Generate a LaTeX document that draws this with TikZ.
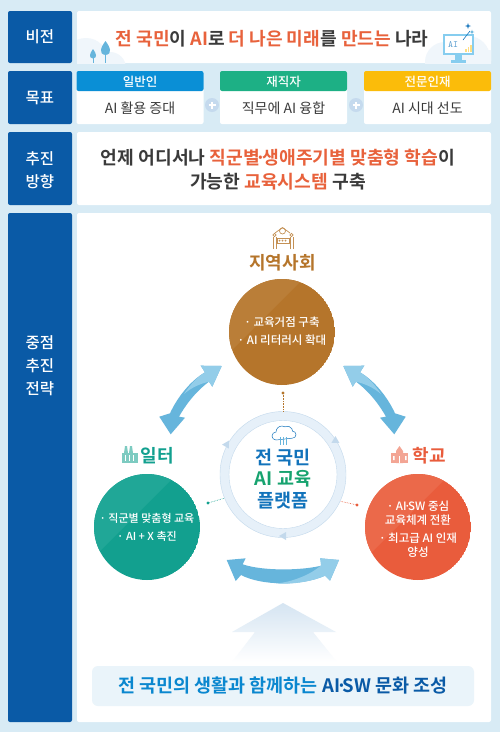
\documentclass[tikz,border=0pt]{standalone}
\usepackage{fontspec}
\setmainfont{Noto Sans CJK KR}[BoldFont={Noto Sans CJK KR Medium}]
\newfontfamily\heavyfont{Noto Sans CJK KR Bold}
\newcommand{\middot}{\kern-0.22em·\kern-0.22em}
\usetikzlibrary{arrows.meta,shapes.geometric}
\definecolor{pagebg}{HTML}{D8EBF5}
\definecolor{navy}{HTML}{0A5AA6}
\definecolor{accent}{HTML}{E8623C}
\definecolor{ink}{HTML}{3A3A3A}
\definecolor{headblue}{HTML}{0A8FD6}
\definecolor{headgreen}{HTML}{1DB085}
\definecolor{headyellow}{HTML}{FBBC0A}
\definecolor{town}{HTML}{B5752B}
\definecolor{townlight}{HTML}{BA7E38}
\definecolor{work}{HTML}{12A08F}
\definecolor{worklight}{HTML}{20A797}
\definecolor{school}{HTML}{E95C3C}
\definecolor{schoollight}{HTML}{EB694A}
\definecolor{flowdark}{HTML}{66B5DC}
\definecolor{flowlight}{HTML}{93CDE9}
\definecolor{ringfill}{HTML}{E6F0F9}
\definecolor{ringline}{HTML}{C3D9EC}
\definecolor{plusblue}{HTML}{C5DAEE}
\definecolor{cloudpale}{HTML}{F0F6FB}
\definecolor{bannerbg}{HTML}{EAF4FA}
\definecolor{platblue}{HTML}{1273BB}
\definecolor{platgreen}{HTML}{17A36F}
\definecolor{screenline}{HTML}{86CDEF}
\tikzset{
  labelbox/.style={fill=navy, rounded corners=2pt, text=white, font=\fontsize{15.5}{23}\selectfont\bfseries, align=center, minimum width=64pt, inner sep=0pt},
  whitebox/.style={fill=white, rounded corners=2pt, minimum width=414pt, inner sep=0pt, align=center},
  goalbody/.style={fill=white, rounded corners=2pt, minimum width=127pt, minimum height=53pt, inner sep=0pt},
  goalhead/.style={font=\fontsize{12.5}{14}\selectfont\bfseries, text=white},
  goaltext/.style={font=\fontsize{14}{16}\selectfont, text=ink},
  plusnode/.style={circle, fill=plusblue, minimum size=14pt, inner sep=0pt},
  hubtext/.style={circle, minimum size=106pt, inner sep=0pt, align=center, text=white},
  hubtitle/.style={font=\fontsize{18}{20}\selectfont\heavyfont},
  linkline/.style={densely dotted, line width=0.6pt},
}
\begin{document}
\begin{tikzpicture}[x=1pt,y=1pt]
    \useasboundingbox (0,0) rectangle (500,-732);
    \fill[pagebg] (0,0) rectangle (500,-732);

    % Left column
    \node[labelbox, minimum height=52pt] (vision) at (40,-37) {비전};
    \node[labelbox, minimum height=53pt] (goal) at (40,-97.5) {목표};
    \node[labelbox, minimum height=73pt] (direction) at (40,-168.5) {};
    \node[labelbox, minimum height=509pt] (strategy) at (40,-467.5) {};
    \node[text=white, font=\fontsize{15.5}{23}\selectfont\bfseries, align=center] (directionlabel) at (40,-170) {추진\\방향};
    \node[text=white, font=\fontsize{15.5}{23}\selectfont\bfseries, align=center] (strategylabel) at (40,-366) {중점\\추진\\전략};

    % Vision band
    \node[whitebox, minimum height=52pt] (visionbox) at (284,-37) {};
    \begin{scope}
        \clip (77,-63) rectangle (491,-11);
        \fill[cloudpale] (86,-60) circle (22pt);
        \fill[cloudpale] (110,-68) circle (16pt);
        \fill[cloudpale] (445,-62) circle (20pt);
        \fill[cloudpale] (468,-58) circle (22pt);
        \fill[cloudpale] (488,-66) circle (16pt);
    \end{scope}
    % Trees
    \draw[flowdark, line width=0.8pt] (93,-55) -- (93,-63);
    \draw[flowdark, line width=0.8pt] (105,-48) -- (105,-63);
    \fill[flowdark] (93,-49) .. controls (90,-53) and (88,-58) .. (93,-58.5) .. controls (98,-58) and (96,-53) .. (93,-49) -- cycle;
    \fill[flowdark] (105.5,-41) .. controls (101,-47) and (98,-54) .. (105.5,-55) .. controls (113,-54) and (110,-47) .. (105.5,-41) -- cycle;
    % Monitor
    \draw[screenline, line width=1.4pt, fill=white] (444,-35) rectangle (473,-54);
    \fill[screenline] (455,-54) rectangle (462,-60);
    \fill[screenline] (451,-60) rectangle (466,-63);
    \node[font=\fontsize{9.5}{9}\selectfont\ttfamily, text=platblue!70!white] (screen) at (453,-44.5) {AI};
    \foreach \x/\h in {465/3,467.5/5,470/7} {
        \fill[headyellow!50] (\x,-52) rectangle (\x+1.6,-52+\h);
    }
    \draw[platblue, line width=0.6pt] (463,-40) -- (470,-31);
    \node[star, star points=4, star point ratio=3, fill=platblue, minimum size=6pt, inner sep=0pt] (sparkone) at (468,-26) {};
    \node[star, star points=4, star point ratio=3, fill=flowdark, minimum size=5pt, inner sep=0pt] (sparktwo) at (472,-32) {};
    % Vision text
    \node[font=\fontsize{18.1}{20}\selectfont\heavyfont, text=ink] (visiontext) at (272,-38.5) {\textcolor{accent}{전 국민}이 \textcolor{accent}{AI}로 \textcolor{accent}{더 나은 미래}를 \textcolor{accent}{만드는} 나라};

    % Goal cards
    \foreach \name/\cx/\col/\head/\body in {general/140/headblue/일반인/AI 활용 증대, worker/283.5/headgreen/재직자/직무에 AI 융합, expert/427.5/headyellow/전문인재/AI 시대 선도} {
        \node[goalbody] (\name) at (\cx,-97.5) {};
        \fill[\col, rounded corners=2pt] (\cx-63.5,-91) |- (\cx+63.5,-71) -- (\cx+63.5,-91) -- cycle;
        \node[goalhead] (\name head) at (\cx,-81.5) {\head};
        \node[goaltext] (\name text) at (\cx,-108) {\body};
    }
    \node[plusnode] (plusone) at (212,-105) {};
    \node[plusnode] (plustwo) at (356,-105) {};
    \foreach \x in {212,356} {
        \draw[white, line width=1.4pt] (\x-3.5,-105) -- (\x+3.5,-105) (\x,-101.5) -- (\x,-108.5);
    }

    % Direction band
    \node[whitebox, minimum height=73pt] (directionbox) at (284,-168.5) {};
    \node[font=\fontsize{18.2}{24}\selectfont\heavyfont, text=ink, align=center] (directiontext) at (278,-170)
        {언제 어디서나 \textcolor{accent}{직군별\middot 생애주기별 맞춤형 학습}이\\가능한 \textcolor{accent}{교육시스템} 구축};

    % Strategy band
    \node[whitebox, minimum height=509pt] (strategybox) at (284,-467.5) {};

    % Upward arrow
    \shade[top color=ringline!70!white, bottom color=white]
        (283,-603) -- (336,-632) -- (313,-632) -- (337,-662) -- (232,-662) -- (255,-632) -- (232,-632) -- cycle;

    % Banner
    \node[fill=bannerbg, rounded corners=6pt, minimum width=382pt, minimum height=40pt, inner sep=0pt, font=\fontsize{18.5}{20}\selectfont\heavyfont] (banner) at (283,-686)
        {\textcolor{headblue!85!navy}{전 국민의 생활과 함께하는} \textcolor{navy}{AI\middot SW 문화 조성}};

    % Platform ring
    \node[circle, draw=ringline, fill=ringfill, minimum size=126pt, inner sep=0pt] (ring) at (283,-474.5) {};
    \node[circle, draw=ringline, fill=white, minimum size=108pt, inner sep=0pt] (ringin) at (283,-474.5) {};
    \foreach \x/\y/\r in {227/-444/-30, 336/-441/-120, 283/-536/90} {
        \fill[ringline, rotate around={\r:(\x,\y)}] (\x,\y+4) -- (\x-4,\y-3) -- (\x+4,\y-3) -- cycle;
    }
    \node[font=\fontsize{18.5}{21.5}\selectfont\heavyfont, align=center] (platform) at (283,-479)
        {\textcolor{platblue}{전 국민}\\\textcolor{platgreen}{AI 교육}\\\textcolor{platblue}{플랫폼}};
    % Cloud icon
    \draw[platblue, line width=0.5pt, fill=white] (276,-440) arc (270:90:4) arc (180:60:6) arc (120:0:5) arc (90:-90:3.5) -- cycle;
    \foreach \x in {280,283,286} {
        \draw[flowdark, line width=0.9pt] (\x,-437) -- (\x,-445);
    }

    % Community circle
    \begin{scope}
        \clip (282,-332) circle (53pt);
        \fill[town] (282,-332) circle (53pt);
        \fill[townlight] (220,-270) -- (312,-270) -- (220,-362) -- cycle;
    \end{scope}
    \node[hubtext, font=\fontsize{11.5}{18}\selectfont\bfseries] (community) at (282,-331) {· 교육거점 구축\\· AI 리터러시 확대};
    \node[hubtitle, text=town] (communitytitle) at (282.5,-262.5) {지역사회};
    % People icon
    \begin{scope}[town!80!white, line width=0.7pt]
        \draw (273,-249) -- (273,-237) (276,-249) -- (276,-237) (290,-249) -- (290,-237) (293,-249) -- (293,-237);
        \draw (274.5,-235) circle (1.6pt) (291.5,-235) circle (1.6pt) (282.5,-231) circle (3pt);
        \draw (275,-233) -- (282.5,-227.5) -- (290,-233);
        \draw[fill=white] (277,-238) rectangle (289,-243);
        \foreach \x in {279.5,282.5,285.5} {
            \fill (\x,-240.5) circle (1pt);
        }
    \end{scope}

    % Workplace circle
    \begin{scope}
        \clip (147,-527) circle (53pt);
        \fill[work] (147,-527) circle (53pt);
        \fill[worklight] (90,-474) -- (177,-474) -- (90,-561) -- cycle;
    \end{scope}
    \node[hubtext, font=\fontsize{11}{18}\selectfont\bfseries] (workplace) at (147,-527) {· 직군별 맞춤형 교육\\· AI + X 촉진};
    \node[hubtitle, text=work, anchor=west] (worktitle) at (137,-455.5) {일터};
    % Factory icon
    \begin{scope}[work!55!white]
        \fill (122,-463) rectangle (138,-453);
        \fill (124,-453) -- (125,-446) -- (127,-446) -- (128,-453) -- cycle;
        \fill (129,-453) -- (130,-446) -- (132,-446) -- (133,-453) -- cycle;
        \foreach \x in {125,129,133} {
            \fill[white] (\x,-461) rectangle (\x+1,-455);
        }
    \end{scope}

    % School circle
    \begin{scope}
        \clip (418,-527) circle (53pt);
        \fill[school] (418,-527) circle (53pt);
        \fill[schoollight] (365,-474) -- (450,-474) -- (365,-559) -- cycle;
    \end{scope}
    \node[hubtext, font=\fontsize{11.5}{14.5}\selectfont\bfseries] (schoolhub) at (418,-529) {· AI\middot SW 중심\\교육체계 전환\\[3pt]· 최고급 AI 인재\\양성};
    \node[hubtitle, text=school, anchor=west] (schooltitle) at (409,-455.5) {학교};
    % School icon
    \begin{scope}[school!55!white]
        \fill (391,-463) rectangle (408,-453);
        \fill (396,-463) -- (396,-451) -- (399.5,-446) -- (403,-451) -- (403,-463) -- cycle;
        \fill[white] (398.8,-463) rectangle (400.2,-456);
        \fill[white] (393,-460) rectangle (394.5,-456) (405,-460) rectangle (406.5,-456);
    \end{scope}

    % Links from the ring to the circles
    \coordinate (towndot) at (283,-393);
    \coordinate (workdot) at (208,-503);
    \coordinate (schooldot) at (357,-505);
    \draw[linkline, town] (towndot) -- (ring.north);
    \draw[linkline, work] (workdot) -- (ring.202);
    \draw[linkline, school] (schooldot) -- (ring.-25);
    \fill[town] (towndot) circle (1.6pt);
    \fill[work] (workdot) circle (1.6pt);
    \fill[school] (schooldot) circle (1.6pt);

    % Flow arrows, left one and its mirror image
    \foreach \mx/\sx in {0/1,565/-1} {
        \begin{scope}[xshift=\mx pt, xscale=\sx]
            \fill[flowdark] (221.7,-366) -- (200.7,-365.7) -- (205,-372.3)
                .. controls (190,-381) and (177,-398) .. (170,-413.3)
                -- (159.3,-416.7) -- (170.7,-434.3) -- (185,-417.7) -- (179,-416.7)
                .. controls (185,-406) and (195,-392) .. (209,-381.7)
                -- (212.3,-386.7) -- cycle;
            \fill[flowlight] (221.7,-366) -- (200.7,-365.7) -- (205,-372.3)
                .. controls (197,-377) and (190,-385) .. (184,-394)
                .. controls (191,-388) and (199,-384) .. (209,-381.7)
                -- (212.3,-386.7) -- cycle;
        \end{scope}
    }
    % Flow arrow at the bottom
    \fill[flowdark] (226.7,-560) -- (245.7,-558.3) -- (242.7,-564.3)
        .. controls (262,-571) and (302,-571) .. (324,-565)
        -- (320,-558.3) -- (339,-560) -- (330,-580.7) -- (325,-575.7)
        .. controls (302,-586) and (262,-586) .. (241,-575)
        -- (235.7,-581) -- cycle;
    \fill[flowlight] (276,-583.5) .. controls (292,-582) and (310,-575) .. (321,-565.5)
        -- (320,-558.3) -- (339,-560) -- (330,-580.7) -- (325,-575.7)
        .. controls (310,-582) and (292,-584.5) .. (276,-583.5) -- cycle;

\end{tikzpicture}
\end{document}
